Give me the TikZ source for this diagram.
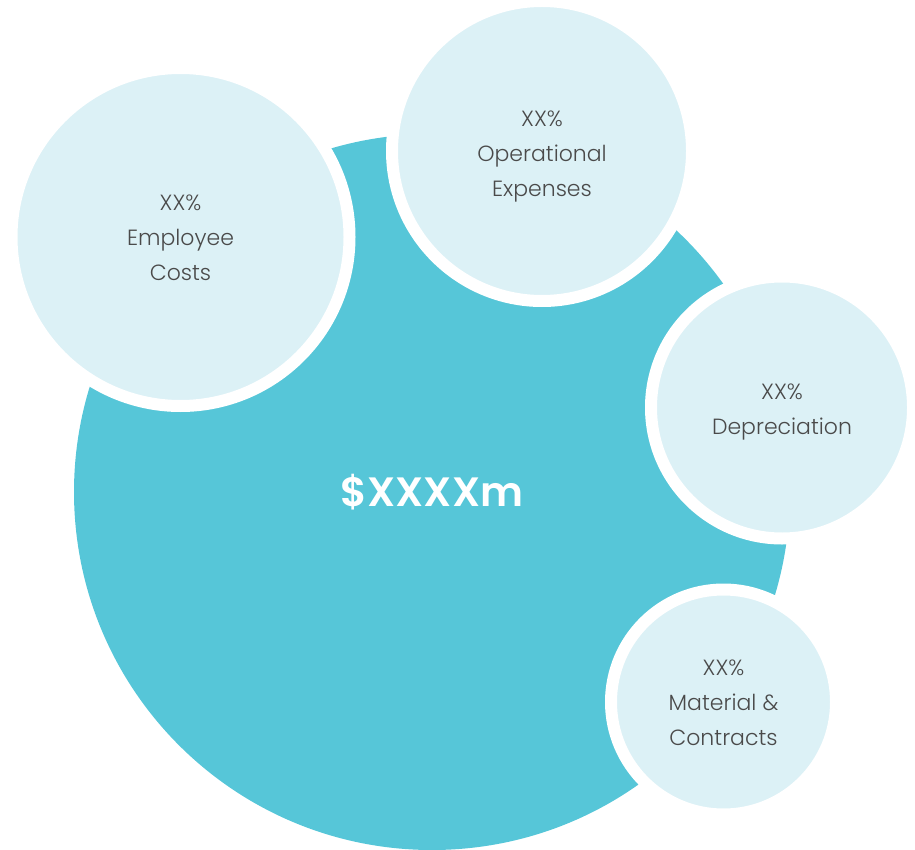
\documentclass[tikz,border=0pt]{standalone}
\usepackage{fontspec}
\newfontfamily\labelfont{Poppins Light}
\newfontfamily\totalfont{Poppins SemiBold}
\definecolor{teal}{HTML}{56C6D8}
\definecolor{pale}{HTML}{DCF1F6}
\definecolor{ink}{HTML}{4A4A4A}
\begin{document}
\begin{tikzpicture}[x=1pt,y=-1pt,
  share/.style={circle, inner sep=0pt, fill=pale, draw=white, line width=12pt,
    minimum size=#1},
  sharetext/.style={align=center, text=ink, inner sep=0pt,
    font=\labelfont\fontsize{22}{35}\selectfont},
  whole/.style={circle, inner sep=0pt, fill=teal, minimum size=716pt,
    text=white, font=\totalfont\fontsize{41}{48}\selectfont}]
  \useasboundingbox (0,0) rectangle (915,850);
  % total spend
  \node[whole] (total) at (432,492) {\$XXXXm};
  % breakdown bubbles (minimum size = 2r + 12)
  \node[share=338pt] (employee) at (180.5,237) {};
  \node[share=300pt] (opex) at (542,151) {};
  \node[share=262pt] (depr) at (782,407.5) {};
  \node[share=225pt] (material) at (723.5,702) {};
  % bubble captions
  \node[sharetext] (employee-text) at ([yshift=-1pt]employee.center) {XX\%\\Employee\\Costs};
  \node[sharetext] (opex-text) at ([yshift=-6pt]opex.center) {XX\%\\Operational\\Expenses};
  \node[sharetext] (depr-text) at ([yshift=-5pt]depr.center) {XX\%\\Depreciation};
  \node[sharetext] (material-text) at ([yshift=-1pt]material.center) {XX\%\\Material \&\\Contracts};
\end{tikzpicture}
\end{document}
